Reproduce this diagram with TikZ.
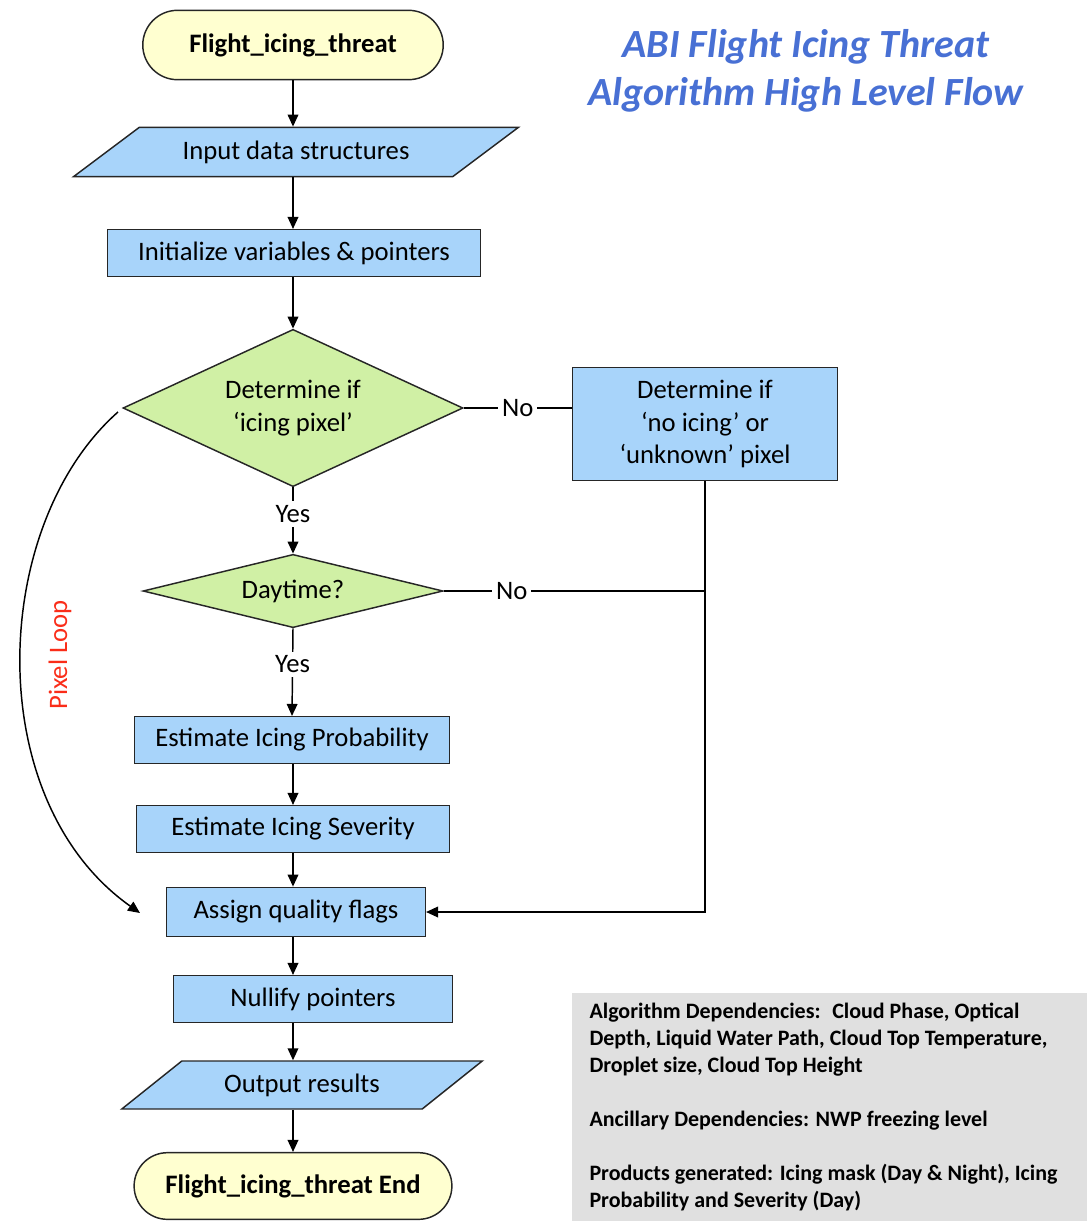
\documentclass[tikz,border=0pt]{standalone}
\usepackage{fontspec}
\setmainfont{Carlito}
\usetikzlibrary{shapes.geometric,shapes.misc,arrows.meta}
\definecolor{boxblue}{RGB}{168,212,250}
\definecolor{diagreen}{RGB}{208,240,165}
\definecolor{termyellow}{RGB}{255,255,208}
\definecolor{titleblue}{RGB}{72,112,212}
\definecolor{loopred}{RGB}{250,45,25}
\definecolor{notegray}{RGB}{224,224,224}

\begin{document}
\begin{tikzpicture}
  [x=0.75pt,y=-0.75pt,font=\fontsize{20}{24.5}\selectfont,
   line width=1.1pt,
   procbox/.style={rectangle,draw=black!85,fill=boxblue,align=center,inner sep=2pt},
   iobox/.style={trapezium,trapezium stretches=true,draw=black!85,fill=boxblue,inner sep=2pt},
   decision/.style={diamond,draw=black!85,fill=diagreen,align=center,inner sep=0pt},
   terminal/.style={rounded rectangle,draw=black!85,fill=termyellow,font=\fontsize{20}{24}\selectfont\bfseries},
   lbl/.style={fill=white,inner sep=3pt},
   arr/.style={-{Triangle[length=9pt,width=8pt]}}]
  \useasboundingbox (0,0) rectangle (1087,1221);

  % title
  \node[font=\fontsize{30}{36}\selectfont\bfseries\itshape,text=titleblue,align=center] (title) at (806,71)
    {ABI Flight Icing Threat\\Algorithm High Level Flow};

  % main column
  \node[terminal,minimum width=232pt,minimum height=52pt] (start) at (293,45) {Flight\_icing\_threat};
  \node[iobox,trapezium left angle=30,trapezium right angle=150,minimum width=335pt,minimum height=37pt] (input) at (296,152) {Input data structures};
  \node[procbox,minimum width=280pt,minimum height=35pt] (init) at (294,253) {Initialize variables \& pointers};
  \node[decision,aspect=2.16,minimum width=255pt,minimum height=118pt] (icing) at (293,408) {Determine if\\‘icing pixel’};
  \node[procbox,minimum width=199pt,minimum height=85pt] (other) at (705,424) {Determine if\\‘no icing’ or\\‘unknown’ pixel};
  \node[decision,aspect=4.1,minimum width=225pt,minimum height=55pt] (day) at (293,591) {Daytime?};
  \node[procbox,minimum width=236pt,minimum height=35pt] (prob) at (292,740) {Estimate Icing Probability};
  \node[procbox,minimum width=235pt,minimum height=35pt] (sev) at (293,829) {Estimate Icing Severity};
  \node[procbox,minimum width=194pt,minimum height=37pt] (assign) at (296,912) {Assign quality flags};
  \node[procbox,minimum width=209pt,minimum height=35pt] (nullify) at (313,999) {Nullify pointers};
  \node[iobox,trapezium left angle=35,trapezium right angle=145,minimum width=271pt,minimum height=36pt] (output) at (302,1085) {Output results};
  \node[terminal,minimum width=245pt,minimum height=50pt] (end) at (293,1186) {Flight\_icing\_threat End};

  \foreach \from/\to in {start/input,input/init,init/icing,prob/sev,sev/assign,assign/nullify,nullify/output,output/end}
    \draw[arr] (start.south |- \from.south) -- (start.south |- \to.north);

  \draw[arr] (icing.south) -- node[lbl,pos=.4] {Yes} (day.north);
  \draw[arr] (day.south) -- node[lbl,pos=.41] {Yes} (prob.north);
  \draw (icing.east) -- node[lbl] {No} (icing.east -| other.west);
  \draw (day.east) -- node[lbl,pos=.26] {No} (day.east -| other.south);
  \draw[arr] (other.south) |- (assign.east);

  % pixel loop
  \coordinate (loopstart) at (118,412);
  \coordinate (loopend) at (140,913);
  \draw[arr] (loopstart) .. controls (-10,525) and (-20,800) .. (loopend);
  \node[rotate=90,text=loopred] (looplbl) at (60,655) {Pixel Loop};

  % notes
  \node[fill=notegray,minimum width=386pt,minimum height=171pt,text width=360pt,inner xsep=13pt,align=flush left,
        font=\fontsize{16.5}{20.25}\selectfont\bfseries] (notes) at (829.5,1107)
    {Algorithm Dependencies:~ Cloud Phase, Optical\\
     Depth, Liquid Water Path, Cloud Top Temperature,\\
     Droplet size, Cloud Top Height\\[20pt]
     Ancillary Dependencies: NWP freezing level\\[20pt]
     Products generated: Icing mask (Day \& Night), Icing\\
     Probability and Severity (Day)};
\end{tikzpicture}
\end{document}
